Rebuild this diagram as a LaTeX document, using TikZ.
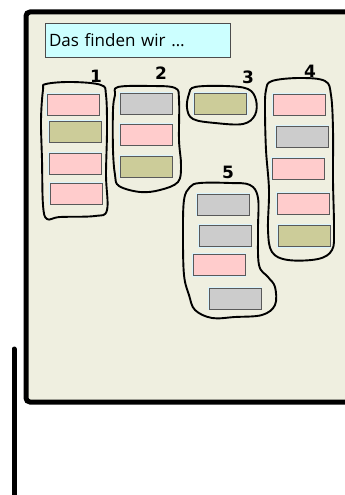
\documentclass[tikz,border=0pt]{standalone}
\usepackage{fontspec}
\setmainfont{Open Sans}
\newfontfamily\numfont{DejaVu Sans}
\begin{document}
\begin{tikzpicture}[x=1pt,y=-1pt,
  card/.style={draw=black!65, line width=0.8pt, fill=#1, minimum width=52pt, minimum height=21pt, inner sep=0pt,
    preaction={draw=cyan!15, line width=2.2pt}},
  blob/.style={draw=black, line width=1.9pt, line join=round},
  num/.style={font=\numfont\bfseries\fontsize{17}{17}\selectfont, inner sep=0pt},
  frame/.style={draw=black, line width=5pt, rounded corners=4pt}]
\definecolor{board}{HTML}{EFEFE0}
\definecolor{pinkc}{HTML}{FFCCCC}
\definecolor{olivec}{HTML}{CCCC99}
\definecolor{grayc}{HTML}{CCCCCC}
\definecolor{titlec}{HTML}{CCFFFF}
\clip (0,0) rectangle (345,495);
% board
\fill[board] (26,12) rectangle (360,402);
\draw[frame] (370,12) -- (26,12) -- (26,402) -- (370,402);
% left post
\draw[line width=5pt, line cap=round] (14,349) -- (14,510);
% title
\node[draw=black!70, line width=0.8pt, fill=titlec, minimum width=185pt, minimum height=34pt, inner sep=0pt,
  text width=177pt, align=left, font=\fontsize{17}{17}\selectfont] (title) at (137.5,40) {Das finden wir \dots};
% blobs
\draw[blob] plot[smooth cycle, tension=0.6] coordinates {(46,84) (72,82) (101,85) (106,95) (107,130) (106,175) (107,210) (95,216) (60,217) (47,219) (43,205) (42,160) (41,120) (43,90)};
\draw[blob] plot[smooth cycle, tension=0.6] coordinates {(118,87) (150,86) (175,88) (179,100) (179,140) (181,165) (178,182) (160,190) (140,192) (119,186) (115,175) (113,150) (113,110) (115,95)};
\draw[blob] plot[smooth cycle, tension=0.6] coordinates {(195,87) (225,86) (248,89) (256,100) (255,115) (243,124) (215,123) (193,119) (187,108) (189,94)};
\draw[blob] plot[smooth cycle, tension=0.6] coordinates {(272,81) (300,78) (325,81) (331,95) (333,130) (333,180) (334,230) (332,250) (318,259) (288,260) (272,252) (268,230) (269,190) (266,150) (265,110) (266,90)};
\draw[blob] plot[smooth cycle, tension=0.6] coordinates {(200,183) (230,183) (250,185) (258,198) (258,230) (259,265) (268,277) (275,287) (275,305) (262,315) (235,317) (212,318) (195,310) (189,295) (184,275) (183,235) (184,200) (190,187)};
% numbers
\node[num] (n1) at (96,76) {1};
\node[num] (n2) at (161,73) {2};
\node[num] (n3) at (248,77) {3};
\node[num] (n4) at (310,71) {4};
\node[num] (n5) at (228,172) {5};
% cards group 1
\node[card=pinkc] (c11) at (73,104.5) {};
\node[card=olivec] (c12) at (75,131.5) {};
\node[card=pinkc] (c13) at (75,163.5) {};
\node[card=pinkc] (c14) at (76,193.5) {};
% group 2
\node[card=grayc] (c21) at (146,103.5) {};
\node[card=pinkc] (c22) at (146,134.5) {};
\node[card=olivec] (c23) at (146,166.5) {};
% group 3
\node[card=olivec] (c31) at (220.5,103.5) {};
% group 4
\node[card=pinkc] (c41) at (299,104.5) {};
\node[card=grayc] (c42) at (302,136.5) {};
\node[card=pinkc] (c43) at (298,168.5) {};
\node[card=pinkc] (c44) at (303,203.5) {};
\node[card=olivec] (c45) at (304,236) {};
% group 5
\node[card=grayc] (c51) at (223,204.5) {};
\node[card=grayc] (c52) at (225,236) {};
\node[card=pinkc] (c53) at (219,265) {};
\node[card=grayc] (c54) at (235,298.5) {};
\end{tikzpicture}
\end{document}
